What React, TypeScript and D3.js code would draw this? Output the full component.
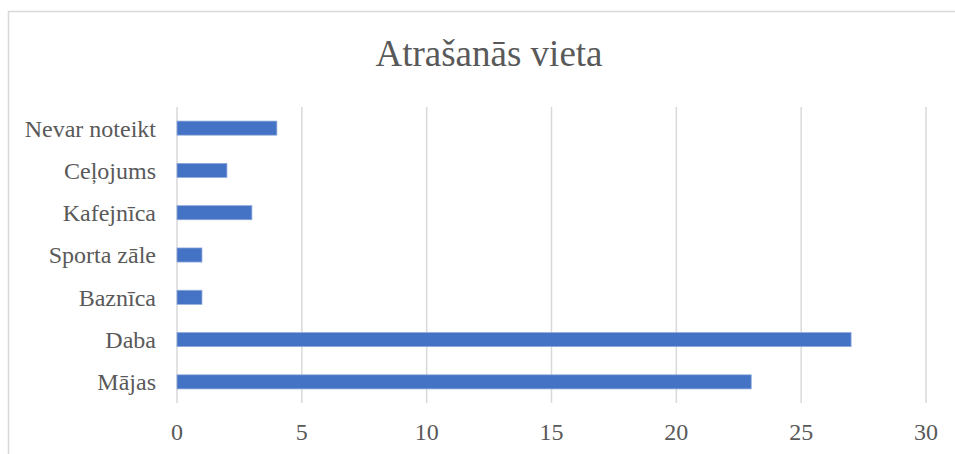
import React from "react";
import * as d3 from "d3";

const categories = ["Nevar noteikt", "Ceļojums", "Kafejnīca", "Sporta zāle", "Baznīca", "Daba", "Mājas"];
const values = [4, 2, 3, 1, 1, 27, 23];
const xTicks = [0, 5, 10, 15, 20, 25, 30];
const title = "Atrašanās vieta";

export default function App() {
  const W = 955, H = 454;
  const left = 177, right = 926, top = 107, bottom = 403;
  const x = d3.scaleLinear().domain([0, 30]).range([left, right]);
  const y = d3.scaleBand().domain(categories).range([top, bottom]).paddingInner(0.667).paddingOuter(0.333);
  const font = "'Liberation Serif', 'Times New Roman', serif";
  const textColor = "#595959";
  return (
    <svg width={W} height={H} style={{ position: "absolute", left: 0, top: 0, background: "#fff" }}>
      <rect x={8.5} y={11.5} width={W + 10} height={H + 10} fill="#fff" stroke="#d9d9d9" strokeWidth={1.5} />
      <text x={489} y={66} textAnchor="middle" fontFamily={font} fontSize={37} fill={textColor}>{title}</text>
      {xTicks.map((t) => (
        <line key={"g" + t} x1={x(t)} x2={x(t)} y1={top} y2={bottom} stroke="#d9d9d9" strokeWidth={1.5} />
      ))}
      {categories.map((c, i) => (
        <rect key={c} x={x(0)} y={y(c)!} width={x(values[i]) - x(0)} height={y.bandwidth()} fill="#4472C4" stroke="#8faadc" strokeWidth={0.75} />
      ))}
      {categories.map((c) => (
        <text key={"l" + c} x={156} y={y(c)! + y.bandwidth() / 2} dy="0.35em" textAnchor="end" fontFamily={font} fontSize={24} fill={textColor}>{c}</text>
      ))}
      {xTicks.map((t) => (
        <text key={"t" + t} x={x(t)} y={440} textAnchor="middle" fontFamily={font} fontSize={24} fill={textColor}>{t}</text>
      ))}
    </svg>
  );
}
